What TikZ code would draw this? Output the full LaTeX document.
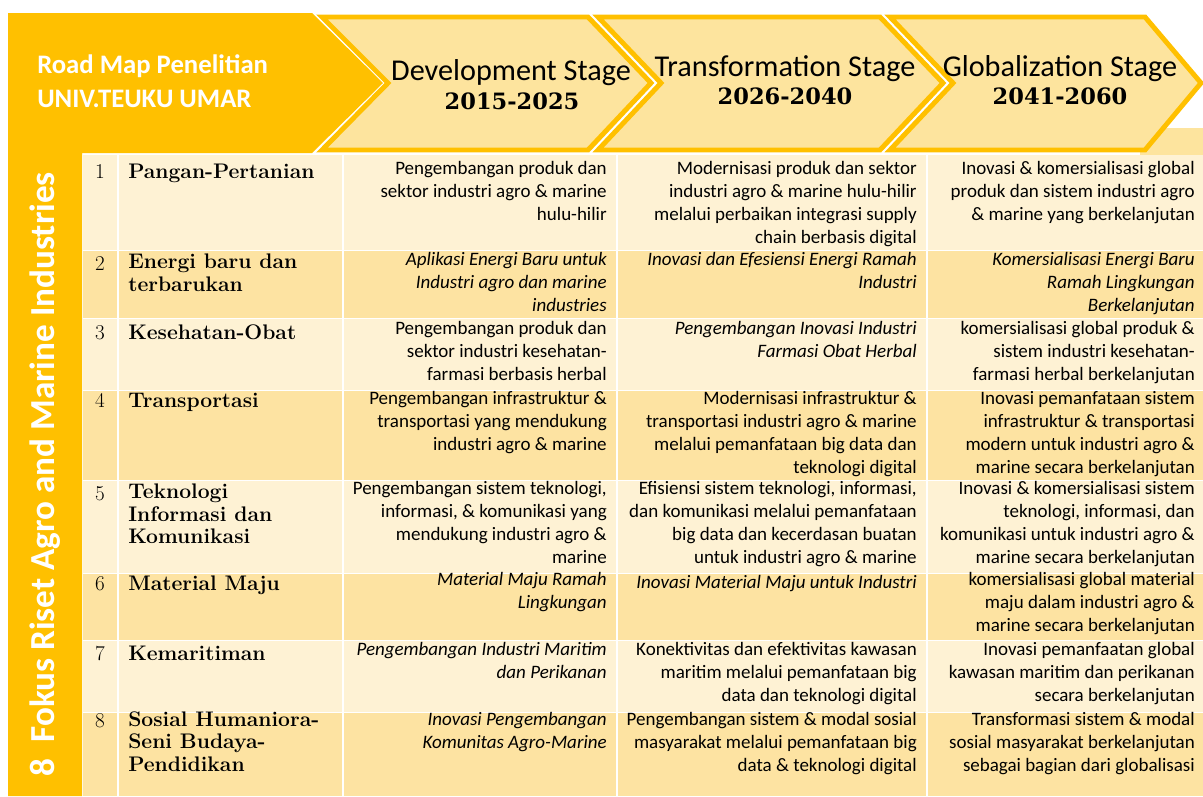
\documentclass[tikz,border=0pt]{standalone}
\usepackage{fontspec}
\usepackage{tikz}
\newfontfamily\calibfont{Carlito}
\newfontfamily\yearfont{DejaVu Serif}
\definecolor{roadgold}{HTML}{FFC000}
\definecolor{chevfill}{HTML}{FDE49E}
\definecolor{rowlight}{HTML}{FEF2D4}
\definecolor{rowdark}{HTML}{FDE3A2}

\begin{document}
\begin{tikzpicture}[x=0.025cm,y=-0.025cm,
  chev/.style={fill=chevfill,draw=roadgold,line width=3.5pt,line join=miter},
  gridline/.style={white,line width=1.2pt},
  cell/.style={anchor=north east,inner sep=0pt,align=right,execute at begin node=\strut,
    font=\calibfont\fontsize{13.5}{16.3}\selectfont},
  celli/.style={cell,font=\calibfont\itshape\fontsize{13.5}{16.3}\selectfont},
  topic/.style={anchor=north west,inner sep=0pt,align=left,execute at begin node=\strut,
    font=\bfseries\fontsize{15}{16}\selectfont},
  num/.style={anchor=base,inner sep=0pt,font=\fontsize{15}{16}\selectfont},
  stage/.style={anchor=base,inner sep=0pt,font=\calibfont\fontsize{21.5}{24}\selectfont},
  years/.style={anchor=base,inner sep=0pt,font=\yearfont\bfseries\fontsize{16}{20}\selectfont}]
 \useasboundingbox (0,0) rectangle (1203,796);
 \clip (0,0) rectangle (1203,796);

 % rows of the table
 \fill[rowlight] (83,155) rectangle (1203,250);
 \fill[rowdark]  (83,250) rectangle (1203,318);
 \fill[rowlight] (83,318) rectangle (1203,390);
 \fill[rowdark]  (83,390) rectangle (1203,480);
 \fill[rowlight] (83,480) rectangle (1203,573);
 \fill[rowdark]  (83,573) rectangle (1203,640);
 \fill[rowlight] (83,640) rectangle (1203,712);
 \fill[rowdark]  (83,712) rectangle (1203,796);

 \draw[gridline] (118,155) -- (118,796);
 \draw[gridline] (343,155) -- (343,796);
 \draw[gridline] (617,155) -- (617,796);
 \draw[gridline] (927,155) -- (927,796);
 \draw[gridline,line width=0.6pt] (83,250) -- (1203,250);
 \draw[gridline,line width=0.6pt] (83,318) -- (1203,318);
 \draw[gridline,line width=0.6pt] (83,390) -- (1203,390);
 \draw[gridline,line width=0.6pt] (83,480) -- (1203,480);
 \draw[gridline,line width=0.6pt] (83,573) -- (1203,573);
 \draw[gridline,line width=0.6pt] (83,640) -- (1203,640);
 \draw[gridline,line width=0.6pt] (83,712) -- (1203,712);

 % header arrow and side strip
 \fill[roadgold] (8,13) -- (312,13) -- (383,83) -- (312,153) -- (82,153) -- (82,796) -- (8,796) -- cycle;
 \fill[chevfill] (1140,128) rectangle (1203,155);
 \draw[chev] (322,17) -- (588,17) -- (651,83) -- (588,150) -- (322,150) -- (388,83) -- cycle;
 \draw[chev] (598,17) -- (880,17) -- (943,83) -- (880,150) -- (598,150) -- (661,83) -- cycle;
 \draw[chev] (890,17) -- (1145,17) -- (1201,83) -- (1145,150) -- (890,150) -- (953,83) -- cycle;

 \node[anchor=base west,inner sep=0pt,white,font=\calibfont\bfseries\fontsize{19}{24}\selectfont] (title1) at (37,73) {Road Map Penelitian};
 \node[anchor=base west,inner sep=0pt,white,font=\calibfont\bfseries\fontsize{19}{24}\selectfont] (title2) at (37,107) {UNIV.TEUKU UMAR};
 \node[rotate=90,anchor=base east,inner sep=0pt,white,font=\calibfont\bfseries\fontsize{25}{28}\selectfont] (side) at (54,172) {8\ \ Fokus Riset Agro and Marine Industries};

 \node[stage] (devstage) at (511,80) {Development Stage};
 \node[years] (devyears) at (512,109) {2015-2025};
 \node[stage] (trastage) at (785,76) {Transformation Stage};
 \node[years] (trayears) at (785,104) {2026-2040};
 \node[stage] (glostage) at (1060,76) {Globalization Stage};
 \node[years] (gloyears) at (1060,104) {2041-2060};

 % row 1
 \node[num] (n1) at (100,178) {1};
 \node[topic] (t1) at (128,162) {Pangan-Pertanian};
 \node[cell] (dev1) at (607,161) {Pengembangan produk dan\\sektor industri agro \& marine\\hulu-hilir};
 \node[cell] (tra1) at (917,161) {Modernisasi produk dan sektor\\industri agro \& marine hulu-hilir\\melalui perbaikan integrasi supply\\chain berbasis digital};
 \node[cell] (glo1) at (1195,161) {Inovasi \& komersialisasi global\\produk dan sistem industri agro\\\& marine yang berkelanjutan};
 % row 2
 \node[num] (n2) at (100,270) {2};
 \node[topic] (t2) at (128,254) {Energi baru dan\\terbarukan};
 \node[celli] (dev2) at (607,252) {Aplikasi Energi Baru untuk\\Industri agro dan marine\\industries};
 \node[celli] (tra2) at (917,252) {Inovasi dan Efesiensi Energi Ramah\\Industri};
 \node[celli] (glo2) at (1195,252) {Komersialisasi Energi Baru\\Ramah Lingkungan\\Berkelanjutan};
 % row 3
 \node[num] (n3) at (100,339) {3};
 \node[topic] (t3) at (128,323) {Kesehatan-Obat};
 \node[cell] (dev3) at (607,321) {Pengembangan produk dan\\sektor industri kesehatan-\\farmasi berbasis herbal};
 \node[celli] (tra3) at (917,321) {Pengembangan Inovasi Industri\\Farmasi Obat Herbal};
 \node[cell] (glo3) at (1195,321) {komersialisasi global produk \&\\sistem industri kesehatan-\\farmasi herbal berkelanjutan};
 % row 4
 \node[num] (n4) at (100,407) {4};
 \node[topic] (t4) at (128,391) {Transportasi};
 \node[cell] (dev4) at (607,391) {Pengembangan infrastruktur \&\\transportasi yang mendukung\\industri agro \& marine};
 \node[cell] (tra4) at (917,391) {Modernisasi infrastruktur \&\\transportasi industri agro \& marine\\melalui pemanfataan big data dan\\teknologi digital};
 \node[cell] (glo4) at (1195,391) {Inovasi pemanfataan sistem\\infrastruktur \& transportasi\\modern untuk industri agro \&\\marine secara berkelanjutan};
 % row 5
 \node[num] (n5) at (100,500) {5};
 \node[topic] (t5) at (128,484) {Teknologi\\Informasi dan\\Komunikasi};
 \node[cell] (dev5) at (607,481) {Pengembangan sistem teknologi,\\informasi, \& komunikasi yang\\mendukung industri agro \&\\marine};
 \node[cell] (tra5) at (917,481) {Efisiensi sistem teknologi, informasi,\\dan komunikasi melalui pemanfataan\\big data dan kecerdasan buatan\\untuk industri agro \& marine};
 \node[cell] (glo5) at (1195,481) {Inovasi \& komersialisasi sistem\\teknologi, informasi, dan\\komunikasi untuk industri agro \&\\marine secara berkelanjutan};
 % row 6
 \node[num] (n6) at (100,590) {6};
 \node[topic] (t6) at (128,574) {Material Maju};
 \node[celli] (dev6) at (607,572) {Material Maju Ramah\\Lingkungan};
 \node[celli] (tra6) at (917,572) {Inovasi Material Maju untuk Industri};
 \node[cell] (glo6) at (1195,572) {komersialisasi global material\\maju dalam industri agro \&\\marine secara berkelanjutan};
 % row 7
 \node[num] (n7) at (100,660) {7};
 \node[topic] (t7) at (128,644) {Kemaritiman};
 \node[celli] (dev7) at (607,642) {Pengembangan Industri Maritim\\dan Perikanan};
 \node[cell] (tra7) at (917,642) {Konektivitas dan efektivitas kawasan\\maritim melalui pemanfataan big\\data dan teknologi digital};
 \node[cell] (glo7) at (1195,642) {Inovasi pemanfaatan global\\kawasan maritim dan perikanan\\secara berkelanjutan};
 % row 8
 \node[num] (n8) at (100,727) {8};
 \node[topic] (t8) at (128,711) {Sosial Humaniora-\\Seni Budaya-\\Pendidikan};
 \node[celli] (dev8) at (607,712) {Inovasi Pengembangan\\Komunitas Agro-Marine};
 \node[cell] (tra8) at (917,712) {Pengembangan sistem \& modal sosial\\masyarakat melalui pemanfataan big\\data \& teknologi digital};
 \node[cell] (glo8) at (1195,712) {Transformasi sistem \& modal\\sosial masyarakat berkelanjutan\\sebagai bagian dari globalisasi};
\end{tikzpicture}
\end{document}
